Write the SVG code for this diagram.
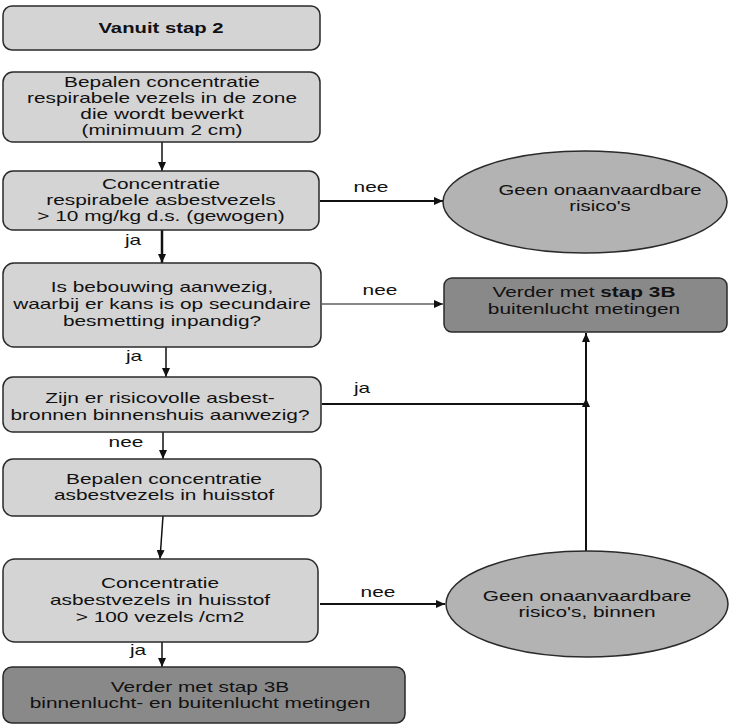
<svg xmlns="http://www.w3.org/2000/svg" width="730" height="727" viewBox="0 0 730 727">
<style>
.box{fill:#d4d4d4;stroke:#2a2a2a;stroke-width:1.5}
.dark{fill:#898989;stroke:#2a2a2a;stroke-width:1.5}
.ell{fill:#b3b3b3;stroke:#2a2a2a;stroke-width:1.5}
text{font-family:"Liberation Sans",Arial,sans-serif;font-size:14px;fill:#111;text-anchor:middle}
.b{font-weight:bold}
.c{fill:none;stroke:#111}
</style>
<defs>
<marker id="ah" markerUnits="userSpaceOnUse" markerWidth="9" markerHeight="8" refX="9" refY="4" orient="auto">
<path d="M0,0 L9,4 L0,8 z" fill="#111"/>
</marker>
</defs>
<rect width="730" height="727" fill="#fff"/>
<g id="connectors">
<path class="c" d="M162 142 V171" stroke-width="1.5" marker-end="url(#ah)"/>
<path class="c" d="M320 201 H443" stroke-width="2" marker-end="url(#ah)"/>
<path class="c" d="M162 230 V263" stroke-width="2.5" marker-end="url(#ah)"/>
<path class="c" d="M322 304 H443" stroke-width="1.2" marker-end="url(#ah)"/>
<path class="c" d="M166 347 V377" stroke-width="1.5" marker-end="url(#ah)"/>
<path class="c" d="M322 404 H586" stroke-width="2"/>
<path class="c" d="M586 551 V398" stroke-width="2" marker-end="url(#ah)"/>
<path class="c" d="M586 404 V333" stroke-width="2" marker-end="url(#ah)"/>
<path class="c" d="M163 432 V459" stroke-width="1.5" marker-end="url(#ah)"/>
<path class="c" d="M163 516 L160 559" stroke-width="1.5" marker-end="url(#ah)"/>
<path class="c" d="M320 604 H445" stroke-width="2" marker-end="url(#ah)"/>
<path class="c" d="M162 642 V667" stroke-width="1.5" marker-end="url(#ah)"/>
<text transform="translate(371 192) scale(1.49 1)">nee</text>
<text transform="translate(380 295) scale(1.49 1)">nee</text>
<text transform="translate(362 393) scale(1.49 1)">ja</text>
<text transform="translate(378 597) scale(1.49 1)">nee</text>
<text transform="translate(133 245) scale(1.49 1)">ja</text>
<text transform="translate(134 361) scale(1.49 1)">ja</text>
<text transform="translate(126 447) scale(1.49 1)">nee</text>
<text transform="translate(138 655) scale(1.49 1)">ja</text>
</g>
<g id="n-start">
<rect class="box" x="3" y="6" width="317" height="44" rx="9"/>
<text class="b" transform="translate(161 33) scale(1.45 1)">Vanuit stap 2</text>
</g>
<g id="n-bepalen1">
<rect class="box" x="3" y="72" width="317" height="70" rx="10"/>
<text transform="translate(162 87) scale(1.49 1)">Bepalen concentratie</text>
<text transform="translate(162 103) scale(1.49 1)">respirabele vezels in de zone</text>
<text transform="translate(162 119) scale(1.49 1)">die wordt bewerkt</text>
<text transform="translate(162 135) scale(1.49 1)">(minimuum 2 cm)</text>
</g>
<g id="n-conc1">
<rect class="box" x="3" y="171" width="316" height="59" rx="10"/>
<text transform="translate(161 189) scale(1.49 1)">Concentratie</text>
<text transform="translate(161 205) scale(1.49 1)">respirabele asbestvezels</text>
<text transform="translate(161 221) scale(1.49 1)">&gt; 10 mg/kg d.s. (gewogen)</text>
</g>
<g id="n-geen1">
<ellipse class="ell" cx="585" cy="202" rx="142" ry="51"/>
<text transform="translate(600 195) scale(1.45 1)">Geen onaanvaardbare</text>
<text transform="translate(600 211) scale(1.45 1)">risico's</text>
</g>
<g id="n-bebouwing">
<rect class="box" x="3" y="263" width="318" height="84" rx="11"/>
<text transform="translate(162 292) scale(1.49 1)">Is bebouwing aanwezig,</text>
<text transform="translate(162 309) scale(1.49 1)">waarbij er kans is op secundaire</text>
<text transform="translate(162 326) scale(1.49 1)">besmetting inpandig?</text>
</g>
<g id="n-verder1">
<rect class="dark" x="444" y="278" width="283" height="54" rx="8"/>
<text transform="translate(584 297) scale(1.49 1)">Verder met <tspan class="b">stap 3B</tspan></text>
<text transform="translate(584 314) scale(1.49 1)">buitenlucht metingen</text>
</g>
<g id="n-risico">
<rect class="box" x="3" y="377" width="318" height="55" rx="10"/>
<text transform="translate(160 403) scale(1.49 1)">Zijn er risicovolle asbest-</text>
<text transform="translate(160 420) scale(1.49 1)">bronnen binnenshuis aanwezig?</text>
</g>
<g id="n-bepalen2">
<rect class="box" x="3" y="459" width="318" height="57" rx="10"/>
<text transform="translate(164 484) scale(1.49 1)">Bepalen concentratie</text>
<text transform="translate(164 500) scale(1.49 1)">asbestvezels in huisstof</text>
</g>
<g id="n-conc2">
<rect class="box" x="3" y="559" width="315" height="83" rx="12"/>
<text transform="translate(160 588) scale(1.49 1)">Concentratie</text>
<text transform="translate(160 605) scale(1.49 1)">asbestvezels in huisstof</text>
<text transform="translate(160 622) scale(1.49 1)">&gt; 100 vezels /cm2</text>
</g>
<g id="n-geen2">
<ellipse class="ell" cx="587" cy="604" rx="141" ry="53"/>
<text transform="translate(587 601) scale(1.49 1)">Geen onaanvaardbare</text>
<text transform="translate(587 617) scale(1.49 1)">risico's, binnen</text>
</g>
<g id="n-verder2">
<rect class="dark" x="3" y="667" width="402" height="56" rx="9"/>
<text transform="translate(200 692) scale(1.49 1)">Verder met stap 3B</text>
<text transform="translate(200 708) scale(1.49 1)">binnenlucht- en buitenlucht metingen</text>
</g>
</svg>
